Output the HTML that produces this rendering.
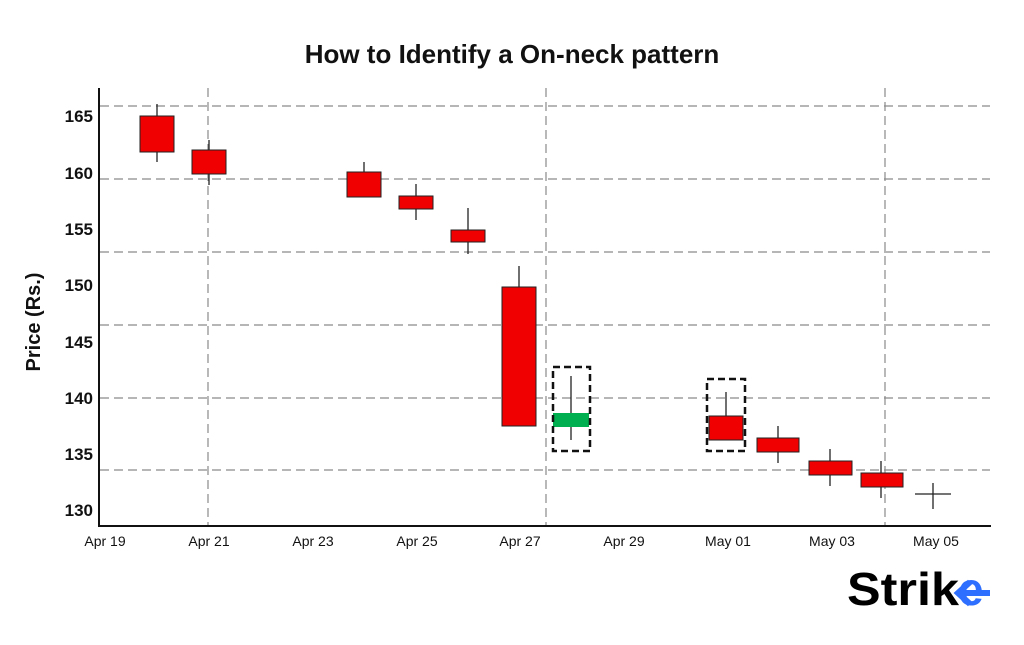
<!DOCTYPE html><html><head><style>
body{margin:0;width:1024px;height:640px;background:#fff;overflow:hidden;font-family:"Liberation Sans",sans-serif}
</style></head><body>
<svg width="1024" height="640" xmlns="http://www.w3.org/2000/svg">
<text x="512" y="63" text-anchor="middle" font-size="26" font-weight="bold" fill="#111">How to Identify a On-neck pattern</text>
<g stroke="#8a8a8a" stroke-width="1.2" stroke-dasharray="9,5">
<line x1="100" y1="106" x2="990" y2="106"/><line x1="100" y1="179" x2="990" y2="179"/>
<line x1="100" y1="252" x2="990" y2="252"/><line x1="100" y1="325" x2="990" y2="325"/>
<line x1="100" y1="398" x2="990" y2="398"/><line x1="100" y1="470" x2="990" y2="470"/>
<line x1="208" y1="88" x2="208" y2="526"/><line x1="546" y1="88" x2="546" y2="526"/><line x1="885" y1="88" x2="885" y2="526"/>
</g>
<line x1="99" y1="88" x2="99" y2="527" stroke="#111" stroke-width="2"/>
<line x1="98" y1="526" x2="991" y2="526" stroke="#111" stroke-width="2"/>
<g font-size="17" font-weight="bold" fill="#111" text-anchor="end">
<text x="93" y="122">165</text><text x="93" y="179">160</text><text x="93" y="235">155</text><text x="93" y="291">150</text>
<text x="93" y="348">145</text><text x="93" y="404">140</text><text x="93" y="460">135</text><text x="93" y="516">130</text>
</g>
<text transform="translate(40,322) rotate(-90)" text-anchor="middle" font-size="20" font-weight="bold" fill="#111">Price (Rs.)</text>
<g font-size="14" fill="#111" text-anchor="middle">
<text x="105" y="546">Apr 19</text><text x="209" y="546">Apr 21</text><text x="313" y="546">Apr 23</text><text x="417" y="546">Apr 25</text>
<text x="520" y="546">Apr 27</text><text x="624" y="546">Apr 29</text><text x="728" y="546">May 01</text><text x="832" y="546">May 03</text><text x="936" y="546">May 05</text>
</g>
<g stroke="#222" stroke-width="1.3">
<line x1="157" y1="104" x2="157" y2="162"/><line x1="209" y1="140" x2="209" y2="185"/>
<line x1="364" y1="162" x2="364" y2="197"/><line x1="416" y1="184" x2="416" y2="220"/>
<line x1="468" y1="208" x2="468" y2="254"/><line x1="519" y1="266" x2="519" y2="426"/>
<line x1="571" y1="376" x2="571" y2="440"/><line x1="726" y1="392" x2="726" y2="440"/>
<line x1="778" y1="426" x2="778" y2="463"/><line x1="830" y1="449" x2="830" y2="486"/>
<line x1="881" y1="461" x2="881" y2="498"/>
<line x1="915" y1="494" x2="951" y2="494"/><line x1="933" y1="483" x2="933" y2="509"/>
</g>
<g fill="#f00000" stroke="#222" stroke-width="1">
<rect x="140" y="116" width="34" height="36"/><rect x="192" y="150" width="34" height="24"/>
<rect x="347" y="172" width="34" height="25"/><rect x="399" y="196" width="34" height="13"/>
<rect x="451" y="230" width="34" height="12"/><rect x="502" y="287" width="34" height="139"/>
<rect x="709" y="416" width="34" height="24"/><rect x="757" y="438" width="42" height="14"/>
<rect x="809" y="461" width="43" height="14"/><rect x="861" y="473" width="42" height="14"/>
</g>
<rect x="553" y="413" width="36" height="14" fill="#00b050"/>
<g fill="none" stroke="#111" stroke-width="2.5" stroke-dasharray="7,4">
<rect x="553" y="367" width="37" height="84"/><rect x="707" y="379" width="38" height="72"/>
</g>
<text x="847" y="605" font-size="46" font-weight="bold" fill="#000" textLength="112" lengthAdjust="spacingAndGlyphs">Strik</text>
<text x="958" y="605" font-size="46" font-weight="bold" fill="#2f6fff">e</text>
<path d="M990 593 H958 M970 582 L958 593 L970 604" stroke="#2f6fff" stroke-width="6" fill="none"/>
</svg>
</body></html>
